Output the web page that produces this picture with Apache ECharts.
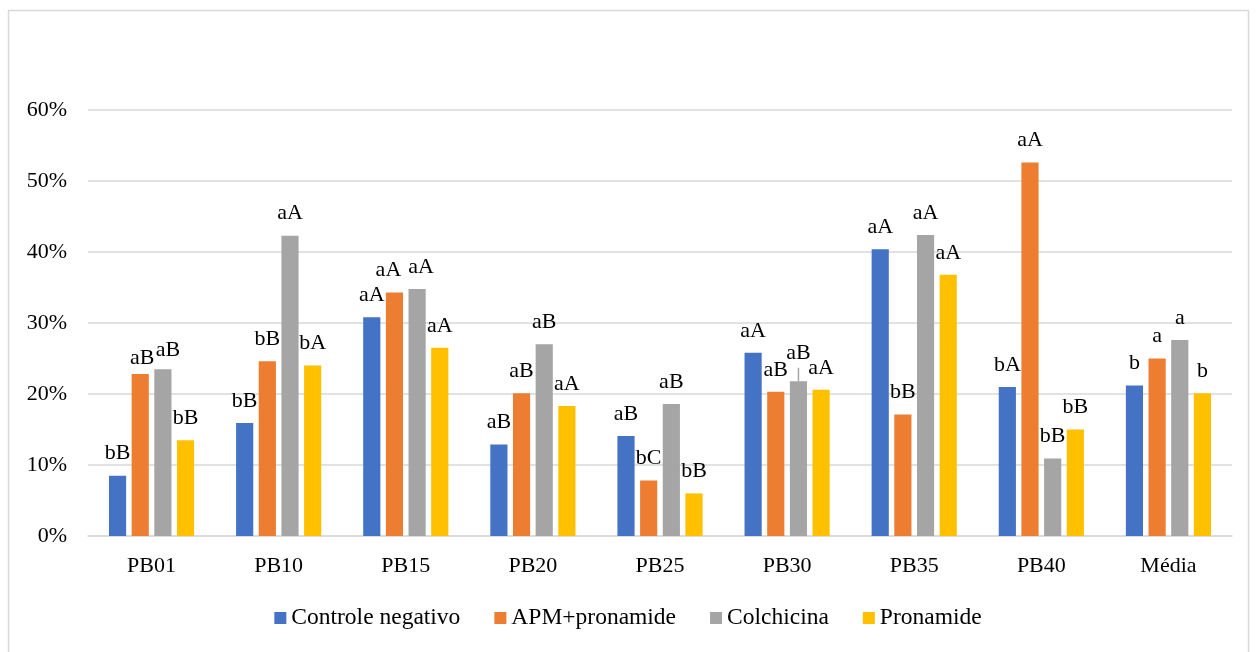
<!DOCTYPE html>
<html><head><meta charset="utf-8">
<script src="https://cdn.jsdelivr.net/npm/echarts@6/dist/echarts.min.js"></script>
<style>html,body{margin:0;padding:0;background:#fff}#c{width:1256px;height:652px}</style>
</head><body><div id="c"></div>
<script>
const categories = ['PB01','PB10','PB15','PB20','PB25','PB30','PB35','PB40','Média'];
const seriesNames = ['Controle negativo','APM+pronamide','Colchicina','Pronamide'];
const controle = [8.5, 15.9, 30.8, 12.9, 14.1, 25.8, 40.4, 21.0, 21.2];
const apm      = [22.8, 24.6, 34.3, 20.1, 7.8, 20.3, 17.1, 52.6, 25.0];
const colch    = [23.5, 42.3, 34.8, 27.0, 18.6, 21.8, 42.4, 10.9, 27.6];
const pronam   = [13.5, 24.0, 26.5, 18.3, 6.0, 20.6, 36.8, 15.0, 20.1];
const lblControle = ['bB','bB','aA','aB','aB','aA','aA','bA','b'];
const lblApm      = ['aB','bB','aA','aB','bC','aB','bB','aA','a'];
const lblColch    = ['aB','aA','aA','aB','aB','aB','aA','bB','a'];
const lblPronam   = ['bB','bA','aA','aA','bB','aA','aA','bB','b'];
// error bar visible in the reference (Colchicina, PB30): [categoryIndex, low, high]
const colchErr = [[5, 21.8, 23.7]];
const yTicks = [0, 10, 20, 30, 40, 50, 60];

// label nudges (styling only): key "series-index" -> [dx, dy]
const nudge = {'1-0':[2,6], '2-0':[5,3], '1-2':[-6,0], '2-2':[4,0], '2-5':[0,-6]};

const colors = ['#4472C4','#ED7D31','#A5A5A5','#FFC000'];
const font = 'Liberation Serif';
const vals = [controle, apm, colch, pronam];
const lbls = [lblControle, lblApm, lblColch, lblPronam];

const series = vals.map((arr, s) => ({
  name: seriesNames[s], type: 'bar',
  barGap: '32%', barCategoryGap: '33%',
  itemStyle: {color: colors[s]},
  data: arr.map((v, i) => {
    const n = nudge[s + '-' + i] || [0, 0];
    return {value: v, label: {offset: n}};
  }),
  label: {show: true, position: 'top', distance: 11, color: '#000',
    fontFamily: font, fontSize: 22,
    formatter: p => lbls[s][p.dataIndex]}
}));

series.push({
  type: 'custom', name: 'err', silent: true, z: 5,
  renderItem: function (params, api) {
    const idx = api.value(0);
    const lo = api.coord([idx, api.value(1)]);
    const hi = api.coord([idx, api.value(2)]);
    const catW = api.size([1, 0])[0];
    const total = catW * 0.67;
    const bw = total / (4 + 3 * 0.32);
    const off = -total / 2 + 2 * bw * 1.32 + bw / 2;
    const x = lo[0] + off;
    return {type: 'line', shape: {x1: x, y1: lo[1], x2: x, y2: hi[1]},
      style: {stroke: '#A5A5A5', lineWidth: 1.5}};
  },
  data: colchErr
});

const chart = echarts.init(document.getElementById('c'));
chart.setOption({
  animation: false,
  textStyle: {fontFamily: font, color: '#000'},
  graphic: [{type: 'rect', shape: {x: 8.5, y: 10.5, width: 1240, height: 660},
    style: {fill: 'none', stroke: '#d9d9d9', lineWidth: 1.5}, silent: true}],
  grid: {left: 88, right: 24, top: 110, bottom: 116},
  legend: {bottom: 17, left: 'center', itemWidth: 12, itemHeight: 12, itemGap: 34,
    icon: 'rect', data: seriesNames,
    textStyle: {fontFamily: font, fontSize: 23.5, color: '#000'}},
  xAxis: {type: 'category', data: categories,
    axisLine: {lineStyle: {color: '#d9d9d9', width: 1.5}},
    axisTick: {show: false},
    axisLabel: {margin: 19, fontFamily: font, fontSize: 22, color: '#000'}},
  yAxis: {type: 'value', min: 0, max: 60, interval: 10,
    axisLine: {show: false}, axisTick: {show: false},
    splitLine: {lineStyle: {color: '#d9d9d9', width: 1.5}},
    axisLabel: {margin: 21, fontFamily: font, fontSize: 22, color: '#000',
      formatter: v => yTicks.includes(v) ? v + '%' : ''}},
  series: series
});
</script></body></html>
